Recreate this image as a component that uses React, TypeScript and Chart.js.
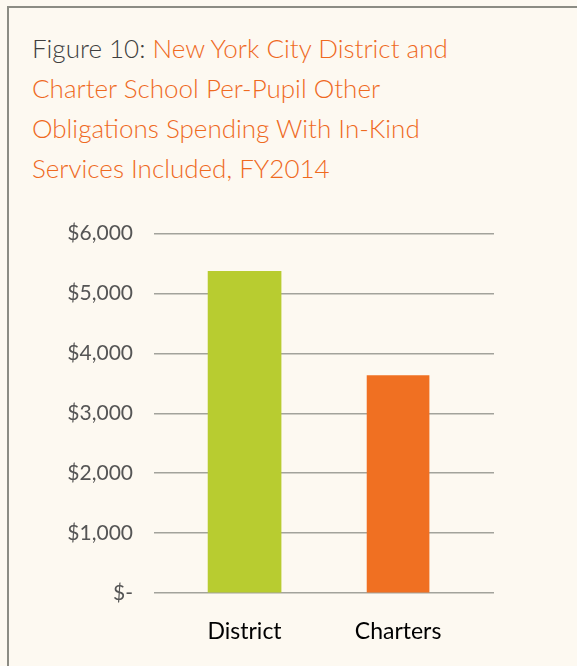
import React, { useEffect, useRef } from "react";
import { Chart, registerables } from "chart.js";

Chart.register(...registerables);

const categories = ["District", "Charters"];
const districtValue = 5370;
const chartersValue = 3630;
const yTicks = [0, 1000, 2000, 3000, 4000, 5000, 6000];
const titleLead = "Figure 10: ";
const titleLines = [
  "New York City District and",
  "Charter School Per-Pupil Other",
  "Obligations Spending With In-Kind",
  "Services Included, FY2014",
];

const BG = "#fdf9f1";
const GREEN = "#b8cc30";
const ORANGE = "#f07022";
const GRID = "#a3a39c";

function fmt(v: number) {
  if (v === 0) return "$-";
  return "$" + v.toLocaleString("en-US");
}

export default function App() {
  const ref = useRef<HTMLCanvasElement | null>(null);
  useEffect(() => {
    document.body.style.margin = "0";
    document.body.style.background = BG;
    const ctx = ref.current!.getContext("2d")!;
    const chart = new Chart(ctx, {
      type: "bar",
      data: {
        datasets: [
          {
            label: categories[0],
            data: [{ x: 0, y: districtValue }],
            backgroundColor: GREEN,
            barThickness: 73,
          },
          {
            label: categories[1],
            data: [{ x: 1, y: chartersValue }],
            backgroundColor: ORANGE,
            barThickness: 62,
          },
        ],
      },
      options: {
        animation: false,
        responsive: false,
        maintainAspectRatio: false,
        layout: { padding: { left: 0, right: 83, top: 33, bottom: 0 } },
        plugins: {
          legend: { display: false },
          tooltip: { enabled: false },
          title: { display: false },
        },
        scales: {
          x: {
            type: "linear",
            stacked: true,
            offset: false,
            min: -0.59,
            max: 1.625,
            grid: { display: false },
            border: { display: false },
            afterBuildTicks: (scale: any) => {
              scale.ticks = categories.map((_, i) => ({ value: i }));
            },
            afterFit: (scale: any) => {
              scale.height = 73;
            },
            ticks: {
              autoSkip: false,
              maxRotation: 0,
              padding: 17,
              color: "#000000",
              font: { family: "Lato", size: 23 },
              callback: (v: any) => categories[Math.round(Number(v))] ?? "",
            },
          },
          y: {
            min: 0,
            max: 6000,
            afterBuildTicks: (scale: any) => {
              scale.ticks = yTicks.map((v) => ({ value: v }));
            },
            afterFit: (scale: any) => {
              scale.width = 154;
            },
            grid: { color: GRID, lineWidth: 1.5, drawTicks: false },
            border: { display: false },
            ticks: {
              padding: 21,
              color: "#555555",
              font: { family: "Lato", size: 21 },
              callback: (v: any) => fmt(Number(v)),
            },
          },
        },
      },
    } as any);
    return () => chart.destroy();
  }, []);

  return (
    <div
      style={{
        position: "fixed",
        left: 0,
        top: 0,
        width: 577,
        height: 666,
        background: BG,
        overflow: "hidden",
      }}
    >
      <div
        style={{
          position: "absolute",
          left: 7,
          top: 6,
          width: 600,
          height: 700,
          borderLeft: "2px solid #8c8c84",
          borderTop: "2px solid #8c8c84",
        }}
      />
      <div
        style={{
          position: "absolute",
          left: 32,
          top: 28,
          fontFamily: "Lato",
          fontWeight: 300,
          fontSize: 26,
          lineHeight: "40px",
          color: "#ef6a1f",
          whiteSpace: "nowrap",
        }}
      >
        {titleLines.map((line, i) => (
          <div key={i}>
            {i === 0 && <span style={{ color: "#3f3f3f" }}>{titleLead}</span>}
            {line}
          </div>
        ))}
      </div>
      <canvas
        ref={ref}
        width={577}
        height={466}
        style={{ position: "absolute", left: 0, top: 200, width: 577, height: 466 }}
      />
    </div>
  );
}
